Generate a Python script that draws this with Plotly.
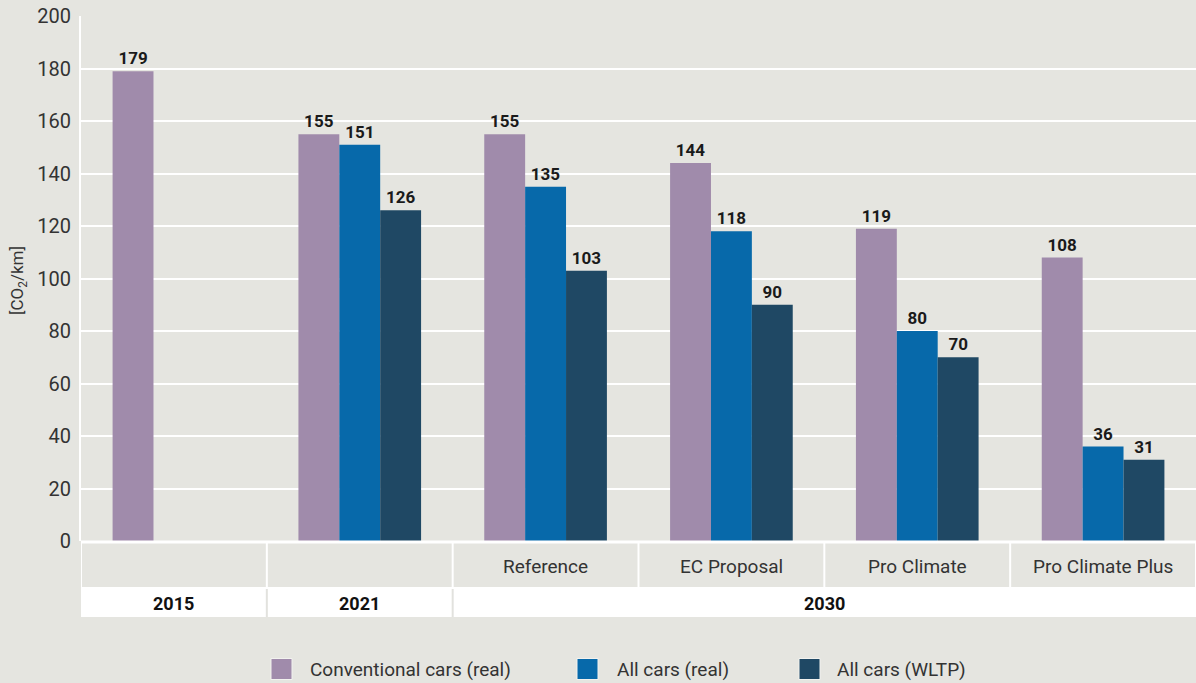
import plotly.graph_objects as go

# Scenario groups along the x axis (internal keys keep the category axis unambiguous)
group_keys = ["g2015", "g2021", "gRef", "gEC", "gPC", "gPCP"]
scenario_labels = ["", "", "Reference", "EC Proposal", "Pro Climate", "Pro Climate Plus"]
period_labels = ["2015", "2021", "2030"]
period_first = [0, 1, 2]
period_last = [0, 1, 5]

series_names = ["Conventional cars (real)", "All cars (real)", "All cars (WLTP)"]
conventional_real = [179, 155, 155, 144, 119, 108]
all_cars_real = [None, 151, 135, 118, 80, 36]
all_cars_wltp = [None, 126, 103, 90, 70, 31]

y_ticks = [0, 20, 40, 60, 80, 100, 120, 140, 160, 180, 200]

colors = ["#a08bab", "#0769aa", "#1f4864"]
BG = "#e5e5e0"
FONT = "Roboto"

W, H = 1196, 683
M_L, M_R, M_T, M_B = 81, 0, 16, 142
PLOT_H = H - M_T - M_B
PLOT_W = W - M_L - M_R
BOTTOM = H - M_B

# legend row: swatch left edges / text left edges (px), swatch size, row centre
LEG_SWATCH_X = [271, 577, 799]
LEG_TEXT_X = [308, 615, 835]
LEG_SWATCH = 21
LEG_Y = 669


def py(pix):
    """Pixel row -> paper y."""
    return (BOTTOM - pix) / PLOT_H


def px(pix):
    """Pixel column -> paper x."""
    return (pix - M_L) / PLOT_W


fig = go.Figure()

for name, vals, col in zip(series_names, [conventional_real, all_cars_real, all_cars_wltp], colors):
    fig.add_trace(go.Bar(
        x=group_keys, y=vals, name=name, marker=dict(color=col, line=dict(width=0)),
        text=[None if v is None else str(v) for v in vals],
        textposition="outside", cliponaxis=False, constraintext="none",
        textfont=dict(family=FONT, size=17, color="#1a1a1a", weight="bold"),
        showlegend=False, hoverinfo="skip",
    ))

shapes = []
n = len(group_keys)
# second header row (white band with period names)
shapes.append(dict(type="rect", xref="x", yref="paper", x0=-0.5, x1=n - 0.5,
                   y0=py(617), y1=py(587), fillcolor="white", line=dict(width=0), layer="below"))
# white line between bars and header rows
shapes.append(dict(type="line", xref="x", yref="paper", x0=-0.5, x1=n - 0.5,
                   y0=py(542), y1=py(542), line=dict(color="white", width=3)))
# separators between scenario cells
for i in range(n + 1):
    shapes.append(dict(type="line", xref="x", yref="paper", x0=i - 0.5, x1=i - 0.5,
                       y0=py(587), y1=py(542), line=dict(color="white", width=2)))
# separators between period cells
for i in range(1, len(period_first)):
    xb = period_first[i] - 0.5
    shapes.append(dict(type="line", xref="x", yref="paper", x0=xb, x1=xb,
                       y0=py(617), y1=py(589), line=dict(color="#e2e2de", width=2)))

annotations = []
for key, lab in zip(group_keys, scenario_labels):
    if lab:
        annotations.append(dict(x=key, xref="x", y=py(566), yref="paper", text=lab,
                                showarrow=False, xanchor="center", yanchor="middle",
                                font=dict(family=FONT, size=19, color="#333333")))
for lab, a, b in zip(period_labels, period_first, period_last):
    annotations.append(dict(x=(a + b) / 2, xref="x", y=py(603), yref="paper", text=lab,
                            showarrow=False, xanchor="center", yanchor="middle",
                            font=dict(family=FONT, size=18, color="#111111", weight="bold")))
annotations.append(dict(x=px(18), xref="paper", y=py(281), yref="paper",
                        text="[CO<sub>2</sub>/km]", textangle=-90, showarrow=False,
                        xanchor="center", yanchor="middle",
                        font=dict(family=FONT, size=17, color="#333333")))

# legend: colour swatch + series name
for name, col, sx, tx in zip(series_names, colors, LEG_SWATCH_X, LEG_TEXT_X):
    shapes.append(dict(type="rect", xref="paper", yref="paper",
                       x0=px(sx), x1=px(sx + LEG_SWATCH),
                       y0=py(LEG_Y + LEG_SWATCH / 2), y1=py(LEG_Y - LEG_SWATCH / 2),
                       fillcolor=col, line=dict(color="#f2f2ef", width=1)))
    annotations.append(dict(x=px(tx), xref="paper", y=py(LEG_Y), yref="paper", text=name,
                            showarrow=False, xanchor="left", yanchor="middle",
                            font=dict(family=FONT, size=19, color="#333333")))

fig.update_layout(
    width=W, height=H,
    margin=dict(l=M_L, r=M_R, t=M_T, b=M_B, autoexpand=False),
    paper_bgcolor=BG, plot_bgcolor=BG,
    barmode="group", bargap=0.34, bargroupgap=0,
    font=dict(family=FONT, color="#333333"),
    showlegend=False,
    shapes=shapes, annotations=annotations,
    xaxis=dict(type="category", categoryorder="array", categoryarray=group_keys,
               showticklabels=False, showgrid=False, zeroline=False, showline=False,
               range=[-0.5, n - 0.5], fixedrange=True),
    yaxis=dict(range=[0, 200], tickvals=y_ticks, showgrid=True, gridcolor="white", gridwidth=2,
               zeroline=False, showline=True, linecolor="white", linewidth=2,
               ticks="", ticklabelstandoff=4,
               tickfont=dict(family=FONT, size=20, color="#333333"), fixedrange=True),
)

fig.write_html("out.html")
